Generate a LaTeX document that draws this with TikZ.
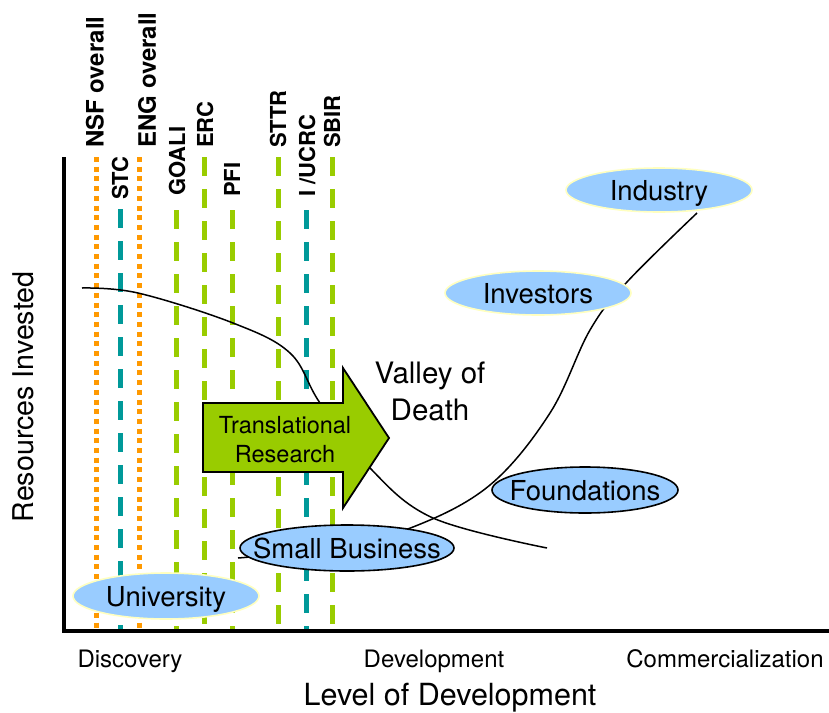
\documentclass[tikz,border=0pt]{standalone}
\usepackage{fontspec}
\setmainfont{TeX Gyre Heros}
\usepackage{tikz}
\usetikzlibrary{shapes.geometric}
\definecolor{ProgOrange}{HTML}{FF9900}
\definecolor{ProgTeal}{HTML}{009999}
\definecolor{ProgGreen}{HTML}{99CC00}
\definecolor{BubbleBlue}{HTML}{99CCFF}
\definecolor{BubbleEdge}{HTML}{FFFFC0}

\tikzset{
  overalldots/.style={color=ProgOrange, line width=5pt, dash pattern=on 5pt off 4.7pt},
  progdash/.style={line width=5pt, dash pattern=on 19pt off 13pt},
  proglabel/.style={rotate=90, anchor=west, inner sep=0pt, font=\fontsize{22}{26}\selectfont\bfseries},
  % negative xsep keeps the ellipse at its minimum size
  actor/.style={ellipse, fill=BubbleBlue, line width=1.6pt, inner xsep=-40pt, inner ysep=0pt, text depth=0pt,
    minimum width=186pt, minimum height=46pt, font=\fontsize{27.5}{33}\selectfont},
  axislabel/.style={anchor=base, inner sep=0pt, font=\fontsize{24}{29}\selectfont}
}

\begin{document}
\begin{tikzpicture}[x=1pt, y=-1pt]
  \useasboundingbox (0,0) rectangle (829,712);

  % Funding programme lines
  \draw[overalldots] (96,157) -- (96,630);
  \draw[overalldots] (139,157) -- (139,630);
  \draw[progdash, ProgTeal] (120,209) -- (120,630);
  \draw[progdash, ProgGreen] (176,210) -- (176,630);
  \draw[progdash, ProgGreen] (204,157) -- (204,630);
  \draw[progdash, ProgGreen] (232,210) -- (232,630);
  \draw[progdash, ProgGreen] (278,157) -- (278,630);
  \draw[progdash, ProgTeal] (306,210) -- (306,630);
  \draw[progdash, ProgGreen] (332,157) -- (332,630);

  % Programme names
  \node[proglabel, font=\fontsize{24}{28}\selectfont\bfseries] (nsf) at (95,148) {NSF overall};
  \node[proglabel] (stc) at (120,200) {STC};
  \node[proglabel, font=\fontsize{24}{28}\selectfont\bfseries] (eng) at (147,148) {ENG overall};
  \node[proglabel] (goali) at (177,196) {GOALI};
  \node[proglabel] (erc) at (205,148) {ERC};
  \node[proglabel] (pfi) at (232,197) {PFI};
  \node[proglabel] (sttr) at (278,148) {STTR};
  \node[proglabel] (iucrc) at (307,197) {I /UCRC};
  \node[proglabel] (sbir) at (332,148) {SBIR};

  % Resources curve
  \draw[line width=1.5pt] plot[smooth, tension=0.6] coordinates
    {(82,288) (138,293) (233,323) (290,353) (320,403) (370,468) (433,518) (547,548)};

  % Translational Research arrow
  \draw[fill=ProgGreen, line width=1.8pt, line join=miter]
    (203,403) -- (343,403) -- (343,368) -- (389,438) -- (343,508) -- (343,472) -- (203,472) -- cycle;
  \node[anchor=north, align=center, inner sep=0pt, font=\fontsize{23.5}{29}\selectfont]
    (trans) at (285,416) {Translational\\Research};

  \node[anchor=north, align=center, inner sep=0pt, font=\fontsize{29.5}{37}\selectfont]
    (valley) at (430,362) {Valley of\\Death};

  % Support curve
  \draw[line width=1.5pt] plot[smooth, tension=0.6] coordinates
    {(238,558) (330,548) (413,527) (490,485) (550,413) (590,330) (627,282) (697,213)};

  % Funding sources
  \node[actor, draw=BubbleEdge] (univ) at (166,596) {University};
  \node[actor, draw=black, minimum width=214pt] (smallbiz) at (347,548) {Small Business};
  \node[actor, draw=black] (found) at (585,490) {Foundations};
  \node[actor, draw=BubbleEdge, minimum height=44pt] (invest) at (538,293) {Investors};
  \node[actor, draw=BubbleEdge, minimum height=44pt] (industry) at (659,190) {Industry};

  % Axes
  \draw[line width=4pt] (64,157) -- (64,631) -- (829,631);
  \node[rotate=90, inner sep=0pt, font=\fontsize{28.6}{34}\selectfont] (resources) at (23,397) {Resources Invested};
  \node[axislabel] (disc) at (130,667) {Discovery};
  \node[axislabel] (devel) at (434,667) {Development};
  \node[axislabel] (comm) at (725,667) {Commercialization};
  \node[axislabel, font=\fontsize{30.5}{36}\selectfont] (level) at (450,705) {Level of Development};
\end{tikzpicture}
\end{document}
